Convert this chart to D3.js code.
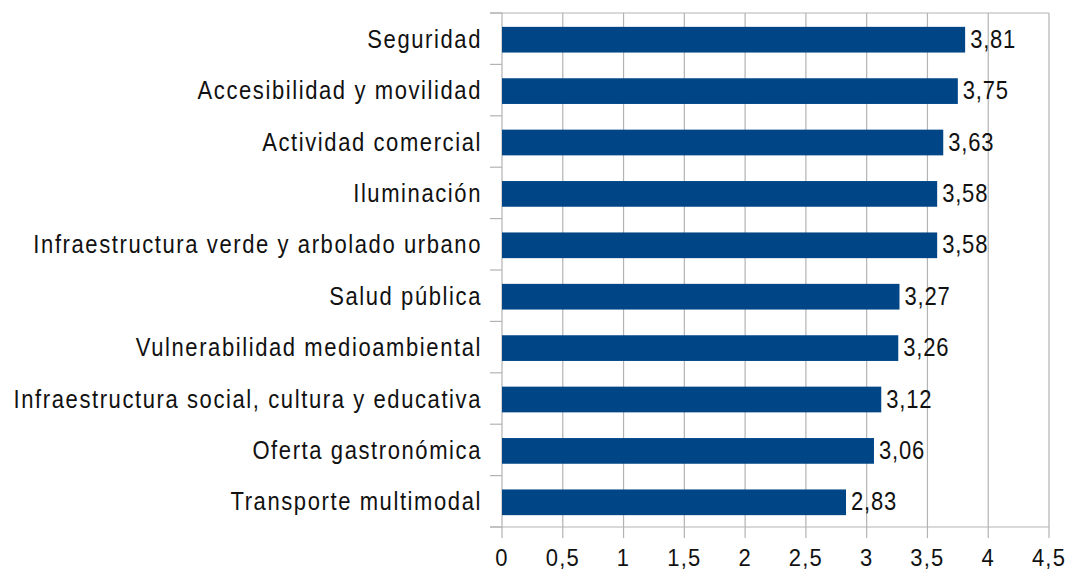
<!DOCTYPE html>
<html>
<head>
<meta charset="utf-8">
<script src="https://cdn.jsdelivr.net/npm/d3@7.9.0/dist/d3.min.js"></script>
<style>
  body { margin: 0; background: #fff; }
  svg text { font-family: "Liberation Sans", Arial, sans-serif; fill: #111; font-size: 22px; }
</style>
</head>
<body>
<svg id="chart" width="1070" height="572"></svg>
<script>
const categories = [
  'Seguridad',
  'Accesibilidad y movilidad',
  'Actividad comercial',
  'Iluminación',
  'Infraestructura verde y arbolado urbano',
  'Salud pública',
  'Vulnerabilidad medioambiental',
  'Infraestructura social, cultura y educativa',
  'Oferta gastronómica',
  'Transporte multimodal',
];
const values = [3.81, 3.75, 3.63, 3.58, 3.58, 3.27, 3.26, 3.12, 3.06, 2.83];
const xTicks = [0, 0.5, 1, 1.5, 2, 2.5, 3, 3.5, 4, 4.5];

const margin = { top: 13, right: 21, bottom: 45, left: 502 };
const width = 1070, height = 572;
const svg = d3.select('#chart');

const x = d3.scaleLinear().domain([0, 4.5]).range([margin.left, width - margin.right]);
const y = d3.scaleBand().domain(categories).range([margin.top, height - margin.bottom]).paddingInner(0.5).paddingOuter(0.25);
const fmt = (v) => String(v).replace('.', ',');
const grid = '#b3b3b3';
// text in the picture is a bit taller than wide
const stretch = 1.16;
const placeText = (sel, fx, fy, s = stretch) =>
  sel.attr('transform', (d, i) => `translate(${fx(d, i)},${fy(d, i)}) scale(1,${s})`);

// vertical gridlines
svg.append('g')
  .selectAll('line')
  .data(xTicks)
  .join('line')
  .attr('x1', (d) => x(d)).attr('x2', (d) => x(d))
  .attr('y1', margin.top).attr('y2', height - margin.bottom + 11)
  .attr('stroke', grid).attr('stroke-width', 1.2);

// horizontal band ticks on the y axis
const bandEdges = d3.range(categories.length + 1).map((i) => margin.top + i * y.step());
svg.append('g')
  .selectAll('line')
  .data(bandEdges)
  .join('line')
  .attr('x1', margin.left - 12).attr('x2', margin.left)
  .attr('y1', (d) => d).attr('y2', (d) => d)
  .attr('stroke', grid).attr('stroke-width', 1.2);

// axis lines
svg.append('line')
  .attr('x1', margin.left - 12).attr('x2', x(4.5))
  .attr('y1', height - margin.bottom).attr('y2', height - margin.bottom)
  .attr('stroke', grid).attr('stroke-width', 1.2);
svg.append('line')
  .attr('x1', margin.left - 12).attr('x2', x(4.5))
  .attr('y1', margin.top).attr('y2', margin.top)
  .attr('stroke', grid).attr('stroke-width', 1.2);

// bars
svg.append('g')
  .selectAll('rect')
  .data(values)
  .join('rect')
  .attr('x', x(0))
  .attr('y', (d, i) => y(categories[i]) + 1)
  .attr('width', (d) => x(d) - x(0))
  .attr('height', y.bandwidth())
  .attr('fill', '#004586');

// value labels
svg.append('g')
  .selectAll('text')
  .data(values)
  .join('text')
  .call(placeText, (d) => x(d) + 5, (d, i) => y(categories[i]) + y.bandwidth() / 2 + 9)
  .attr('letter-spacing', 0.8)
  .text((d) => fmt(d));

// category labels
svg.append('g')
  .selectAll('text')
  .data(categories)
  .join('text')
  .call(placeText, () => 482, (d) => y(d) + y.bandwidth() / 2 + 9)
  .attr('text-anchor', 'end')
  .attr('letter-spacing', 1.6)
  .text((d) => d);

// x tick labels (kept just inside the bottom edge)
svg.append('g')
  .selectAll('text')
  .data(xTicks)
  .join('text')
  .call(placeText, (d) => x(d), () => 566, 1.1)
  .attr('text-anchor', 'middle')
  .attr('letter-spacing', 1.2)
  .text((d) => fmt(d));
</script>
</body>
</html>
